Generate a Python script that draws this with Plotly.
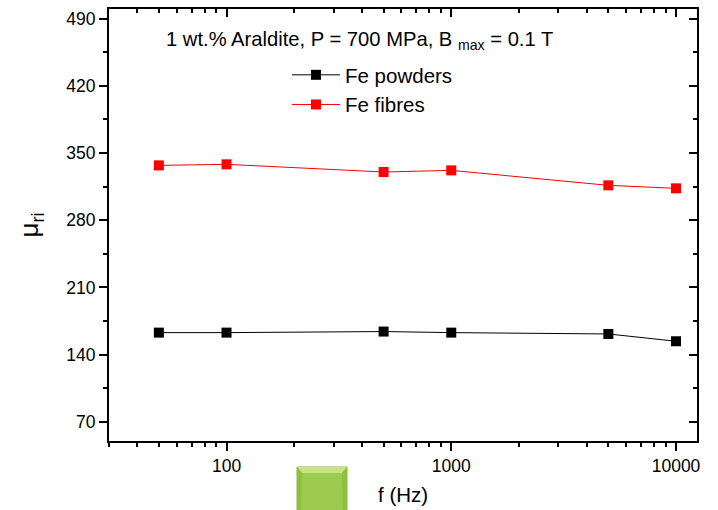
import plotly.graph_objects as go

# ---- data ----
freq = [50, 100, 500, 1000, 5000, 10000]
fe_powders = [162.9, 162.9, 164.0, 162.9, 161.5, 153.9]
fe_fibres = [337.1, 338.2, 330.2, 331.9, 316.3, 313.2]
y_ticks = [70, 140, 210, 280, 350, 420, 490]
x_ticks = [100, 1000, 10000]
x_ticklabels = ["100", "1000", "10000"]

W, H = 718, 510
ML, MR, MT, MB = 109, 21, 9, 69
PW, PH = W - ML - MR, H - MT - MB

def px(x):
    return (x - ML) / PW

def py(y):
    return (H - MB - y) / PH

FONT = "Liberation Sans, Arial, sans-serif"
xrange_log = [1.4771, 4.0934]
yrange = [50, 500]
minor_x = [d * 10 ** e for e in (1, 2, 3) for d in range(2, 10) if 30 <= d * 10 ** e <= 12400]

fig = go.Figure()
fig.add_trace(go.Scatter(x=freq, y=fe_powders, name="Fe powders", mode="lines+markers",
                         line=dict(color="black", width=1),
                         marker=dict(symbol="square", size=10, color="black")))
fig.add_trace(go.Scatter(x=freq, y=fe_fibres, name="Fe fibres", mode="lines+markers",
                         line=dict(color="#ff0000", width=1),
                         marker=dict(symbol="square", size=10, color="#ff0000")))
# invisible trace to activate mirrored (top/right) axes
fig.add_trace(go.Scatter(x=freq, y=fe_fibres, xaxis="x2", yaxis="y2", mode="lines",
                         line=dict(width=0), opacity=0, showlegend=False, hoverinfo="skip"))

axis_common = dict(showgrid=False, zeroline=False, showline=True, linecolor="black",
                   linewidth=2, tickcolor="black", tickwidth=1.5)

fig.update_layout(
    width=W, height=H,
    margin=dict(l=ML, r=MR, t=MT, b=MB),
    paper_bgcolor="white", plot_bgcolor="white",
    font=dict(family=FONT, color="black", size=17),
    xaxis=dict(type="log", range=xrange_log, tickvals=x_ticks, ticktext=x_ticklabels,
               ticks="outside", ticklen=8, tickfont=dict(size=17.5),
               minor=dict(tickvals=minor_x, ticks="outside", ticklen=4,
                          tickcolor="black", tickwidth=1.5),
               **axis_common),
    yaxis=dict(range=yrange, tickvals=y_ticks, ticks="outside", ticklen=8,
               tickfont=dict(size=17.5),
               minor=dict(tick0=35, dtick=35, ticks="outside", ticklen=4,
                          tickcolor="black", tickwidth=1.5),
               title=dict(text="μ<sub>ri</sub>", font=dict(size=26), standoff=20),
               **axis_common),
    xaxis2=dict(type="log", range=xrange_log, overlaying="x", side="top", anchor="y",
                tickvals=x_ticks, ticks="inside", ticklen=8, showticklabels=False,
                minor=dict(tickvals=minor_x, ticks="inside", ticklen=4,
                           tickcolor="black", tickwidth=1.5),
                **axis_common),
    yaxis2=dict(range=yrange, overlaying="y", side="right", anchor="x",
                tickvals=y_ticks, ticks="inside", ticklen=8, showticklabels=False,
                minor=dict(tick0=35, dtick=35, ticks="inside", ticklen=4,
                           tickcolor="black", tickwidth=1.5),
                **axis_common),
    legend=dict(x=px(287), y=py(55), xanchor="left", yanchor="top",
                bgcolor="rgba(0,0,0,0)", font=dict(size=20.5), tracegroupgap=0,
                itemwidth=48),
    showlegend=True,
)

fig.add_annotation(text="1 wt.% Araldite, P = 700 MPa, B <sub>max</sub> = 0.1 T",
                   xref="paper", yref="paper", x=px(164), y=py(40),
                   xanchor="left", yanchor="middle", showarrow=False,
                   font=dict(size=20.2, family=FONT))
fig.add_annotation(text="f (Hz)", xref="paper", yref="paper", x=px(403), y=py(494),
                   xanchor="center", yanchor="middle", showarrow=False,
                   font=dict(size=20.5, family=FONT))

# green bevelled box below the axis
x0, x1 = px(297), px(347)
y0, y1 = py(512), py(467)
bw = 5 / PW
bh = 6 / PH
sw = 4 / PW
fig.add_shape(type="rect", xref="paper", yref="paper", x0=x0, x1=x1, y0=y0, y1=y1,
              fillcolor="#9dcb4f", line=dict(color="#86b63c", width=1), layer="above")
fig.add_shape(type="path", xref="paper", yref="paper",
              path=f"M {x0},{y1} L {x1},{y1} L {x1-bw},{y1-bh} L {x0+bw},{y1-bh} Z",
              fillcolor="#c6e385", line=dict(width=0), layer="above")
fig.add_shape(type="path", xref="paper", yref="paper",
              path=f"M {x0},{y1} L {x0+bw},{y1-bh} L {x0+sw},{y0} L {x0},{y0} Z",
              fillcolor="#8fbf40", line=dict(width=0), layer="above")
fig.add_shape(type="path", xref="paper", yref="paper",
              path=f"M {x1},{y1} L {x1-bw},{y1-bh} L {x1-sw},{y0} L {x1},{y0} Z",
              fillcolor="#8fbf40", line=dict(width=0), layer="above")

fig.write_html("out.html")
